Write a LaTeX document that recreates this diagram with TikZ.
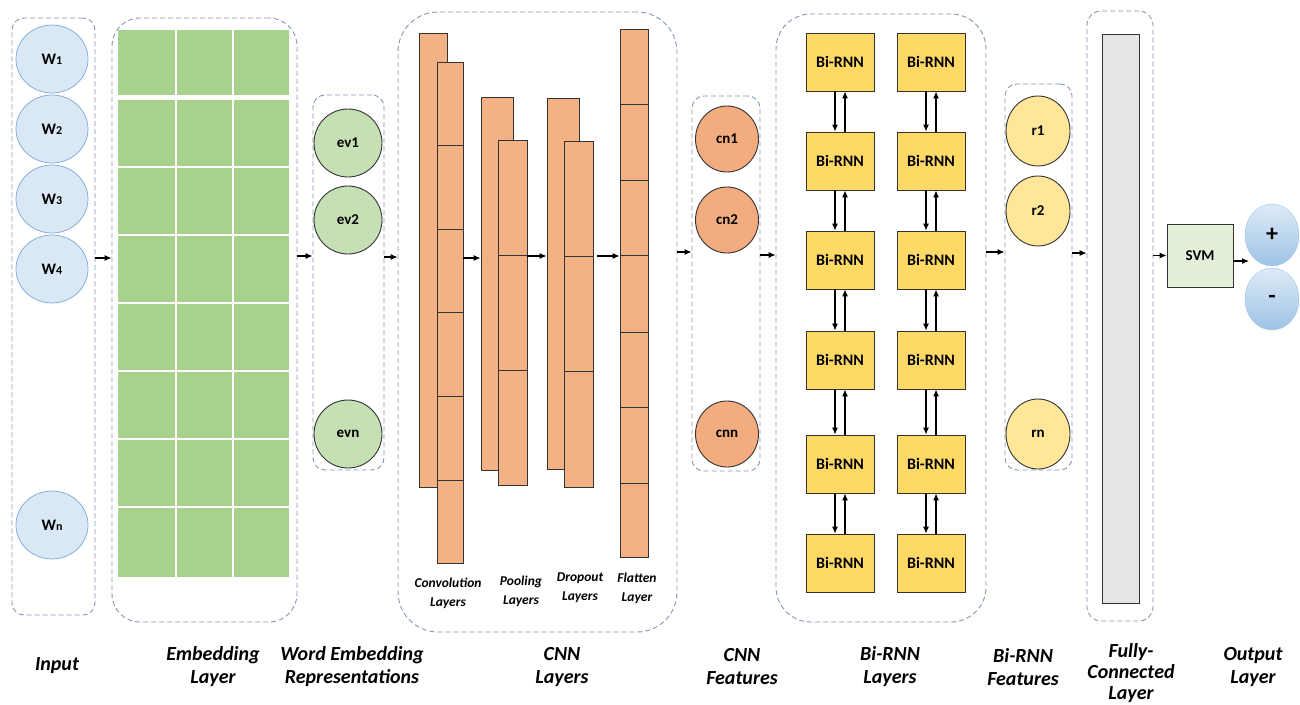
\documentclass[tikz,border=0pt]{standalone}
\usepackage{fontspec}
\setmainfont{Carlito}
\usetikzlibrary{arrows.meta, shapes.geometric}

\definecolor{grpline}{HTML}{8497B0}
\definecolor{infill}{HTML}{DAE8F5}
\definecolor{inline}{HTML}{7DA7D9}
\definecolor{embfill}{HTML}{A9D18E}
\definecolor{evfill}{HTML}{C5E0B4}
\definecolor{barfill}{HTML}{F4B183}
\definecolor{cnfill}{HTML}{F2AC80}
\definecolor{rnnfill}{HTML}{FFD966}
\definecolor{rfill}{HTML}{FFE699}
\definecolor{fcfill}{HTML}{E7E6E6}
\definecolor{svmfill}{HTML}{E2F0D9}
\definecolor{outtop}{HTML}{DEEBF7}
\definecolor{outbot}{HTML}{9DC3E6}
\definecolor{dark}{HTML}{333333}

\tikzset{
  grp/.style={draw=grpline, dash pattern=on 5pt off 3pt, line width=0.9pt, inner sep=0pt},
  arr/.style={-{Latex[length=7pt,width=6pt]}, line width=1.1pt},
  word/.style={ellipse, draw=inline, fill=infill, line width=0.7pt, minimum width=72pt, minimum height=68pt, font=\fontsize{16}{17}\selectfont\bfseries},
  feat/.style={ellipse, draw=dark, line width=0.9pt, font=\fontsize{15}{16}\selectfont\bfseries},
  bar/.style={draw=dark, fill=barfill, line width=0.9pt, inner sep=0pt},
  rnn/.style={draw=dark, fill=rnnfill, line width=0.9pt, minimum width=68pt, minimum height=58pt, font=\fontsize{16}{17}\selectfont\bfseries},
  sublbl/.style={align=center, font=\fontsize{13.5}{19}\selectfont\bfseries\itshape},
  lbl/.style={align=center, font=\fontsize{20}{23}\selectfont\bfseries\itshape}
}
\newcommand{\wlab}[1]{W{\fontsize{12}{12}\selectfont #1}}

\begin{document}
\begin{tikzpicture}[x=1pt, y=-1pt]
\useasboundingbox (0,0) rectangle (1300,704);

% group boxes
\node[grp, rounded corners=12pt, minimum width=83pt, minimum height=597pt] (inbox) at (53.5,316.5) {};
\node[grp, rounded corners=28pt, minimum width=185pt, minimum height=604pt] (embbox) at (204.5,320) {};
\node[grp, rounded corners=12pt, minimum width=71pt, minimum height=375pt] (evbox) at (348.5,282.5) {};
\node[grp, rounded corners=40pt, minimum width=279pt, minimum height=620pt] (cnnbox) at (537.5,322) {};
\node[grp, rounded corners=12pt, minimum width=68pt, minimum height=375pt] (cnbox) at (726,283.5) {};
\node[grp, rounded corners=35pt, minimum width=210pt, minimum height=608pt] (rnnbox) at (881,318) {};
\node[grp, rounded corners=12pt, minimum width=67pt, minimum height=386pt] (rbox) at (1038.5,277) {};
\node[grp, rounded corners=14pt, minimum width=66pt, minimum height=610pt] (fcbox) at (1120,316) {};

% input words
\node[word] (w1) at (52,59) {\wlab{1}};
\node[word] (w2) at (52,129) {\wlab{2}};
\node[word] (w3) at (52,199) {\wlab{3}};
\node[word] (w4) at (52,269) {\wlab{4}};
\node[word] (wn) at (52,525) {\wlab{n}};

% embedding matrix
\foreach \xa/\xb in {118/175, 177/232, 234/289}
  \foreach \ya/\yb in {30/95, 100/166, 168/234, 236/302, 304/370, 372/438, 440/506, 508/577}
    \fill[embfill] (\xa,\ya) rectangle (\xb,\yb);

% word embedding representations
\node[feat, fill=evfill, minimum width=68pt, minimum height=68pt] (ev1) at (348,143) {ev1};
\node[feat, fill=evfill, minimum width=68pt, minimum height=68pt] (ev2) at (348,220) {ev2};
\node[feat, fill=evfill, minimum width=68pt, minimum height=68pt] (evn) at (348,434) {evn};

% cnn layers
\node[bar, minimum width=28pt, minimum height=454pt] (convb) at (433,260) {};
\node[bar, minimum width=26pt, minimum height=501pt] (convf) at (450,312.5) {};
\foreach \y in {145,229,312,396,480}
  \draw[dark, line width=0.9pt] (437,\y) -- (463,\y);
\node[bar, minimum width=32pt, minimum height=373pt] (poolb) at (497,283.5) {};
\node[bar, minimum width=29pt, minimum height=345pt] (poolf) at (512.5,312.5) {};
\foreach \y in {255,370}
  \draw[dark, line width=0.9pt] (498,\y) -- (527,\y);
\node[bar, minimum width=32pt, minimum height=371pt] (dropb) at (563,283.5) {};
\node[bar, minimum width=29pt, minimum height=346pt] (dropf) at (578.5,314) {};
\foreach \y in {256,371}
  \draw[dark, line width=0.9pt] (564,\y) -- (593,\y);
\node[bar, minimum width=28pt, minimum height=528pt] (flat) at (634,293) {};
\foreach \y in {104,180,255,332,407,483}
  \draw[dark, line width=0.9pt] (620,\y) -- (648,\y);

\coordinate (c1) at (0,258);
\coordinate (c2) at (0,256);
\draw[arr] (convf.east |- c1) -- (poolb.west |- c1);
\draw[arr] (poolf.east |- c2) -- (dropb.west |- c2);
\draw[arr] ([xshift=4pt]dropf.east |- c2) -- (flat.west |- c2);

\node[sublbl] (convlbl) at (448,593) {Convolution\\Layers};
\node[sublbl] (poollbl) at (521,591) {Pooling\\Layers};
\node[sublbl] (droplbl) at (580,588) {Dropout\\Layers};
\node[sublbl] (flatlbl) at (637,588) {Flatten\\Layer};

% cnn features
\node[feat, fill=cnfill, minimum width=63pt, minimum height=66pt] (cn1) at (727,139) {cn1};
\node[feat, fill=cnfill, minimum width=63pt, minimum height=66pt] (cn2) at (727,220) {cn2};
\node[feat, fill=cnfill, minimum width=63pt, minimum height=66pt] (cnn) at (727,434) {cnn};

% bi-rnn layers
\foreach \c/\x in {1/840, 2/931}
  \foreach \r/\y in {1/62, 2/161, 3/260, 4/360, 5/464, 6/563}
    \node[rnn] (b\c\r) at (\x,\y) {Bi-RNN};
\foreach \c in {1,2}
  \foreach \r in {1,...,5} {
    \pgfmathtruncatemacro{\n}{\r+1}
    \draw[arr] ([xshift=-5pt]b\c\r.south) -- ([xshift=-5pt]b\c\n.north);
    \draw[arr] ([xshift=5pt]b\c\n.north) -- ([xshift=5pt]b\c\r.south);
  }

% bi-rnn features
\node[feat, fill=rfill, minimum width=64pt, minimum height=70pt] (r1) at (1038,131) {r1};
\node[feat, fill=rfill, minimum width=64pt, minimum height=70pt] (r2) at (1038,211) {r2};
\node[feat, fill=rfill, minimum width=64pt, minimum height=70pt] (rn) at (1038,434) {rn};

% fully connected, svm, output
\node[draw=dark, fill=fcfill, line width=0.9pt, minimum width=37pt, minimum height=569pt] (fcbar) at (1120.5,318.5) {};
\node[draw=dark, fill=svmfill, line width=0.9pt, minimum width=66pt, minimum height=63pt, font=\fontsize{15}{16}\selectfont\bfseries] (svm) at (1200,255.5) {SVM};
\node[ellipse, draw=outbot, top color=outtop, bottom color=outbot, minimum width=54pt, minimum height=62pt, font=\fontsize{24}{24}\selectfont\bfseries] (plus) at (1272,235) {+};
\node[ellipse, draw=outbot, top color=outtop, bottom color=outbot, minimum width=54pt, minimum height=62pt, font=\fontsize{24}{24}\selectfont\bfseries] (minus) at (1272,299) {-};
\coordinate (outin) at (1249,261);

% flow between stages
\coordinate (f1) at (0,258);
\coordinate (f2) at (0,256);
\coordinate (f3) at (0,257);
\coordinate (f4) at (0,252);
\coordinate (f5) at (0,255);
\coordinate (f6) at (0,253);
\draw[arr] (inbox.east |- f1) -- (embbox.west |- f1);
\draw[arr] (embbox.east |- f2) -- (evbox.west |- f2);
\draw[arr] (evbox.east |- f3) -- (cnnbox.west |- f3);
\draw[arr] (cnnbox.east |- f4) -- (cnbox.west |- f4);
\draw[arr] (cnbox.east |- f5) -- (rnnbox.west |- f5);
\draw[arr] (rnnbox.east |- f4) -- (rbox.west |- f4);
\draw[arr] (rbox.east |- f6) -- (fcbox.west |- f6);
\draw[arr] (fcbox.east |- svm.west) -- (svm.west);
\draw[arr] (svm.east |- outin) -- (outin);

% stage labels
\node[lbl] (inlbl) at (57,666) {Input};
\node[lbl] (emblbl) at (213,667) {Embedding\\Layer};
\node[lbl] (evlbl) at (352,667) {Word Embedding\\Representations};
\node[lbl] (cnnlbl) at (562,667) {CNN\\Layers};
\node[lbl] (cnlbl) at (742,667) {CNN\\Features};
\node[lbl] (rnnlbl) at (890,667) {Bi-RNN\\Layers};
\node[lbl] (rlbl) at (1023,667) {Bi-RNN\\Features};
\node[lbl, font=\fontsize{20}{21}\selectfont\bfseries\itshape] (fclbl) at (1131,673) {Fully-\\Connected\\Layer};
\node[lbl] (outlbl) at (1253,667) {Output\\Layer};
\end{tikzpicture}
\end{document}
